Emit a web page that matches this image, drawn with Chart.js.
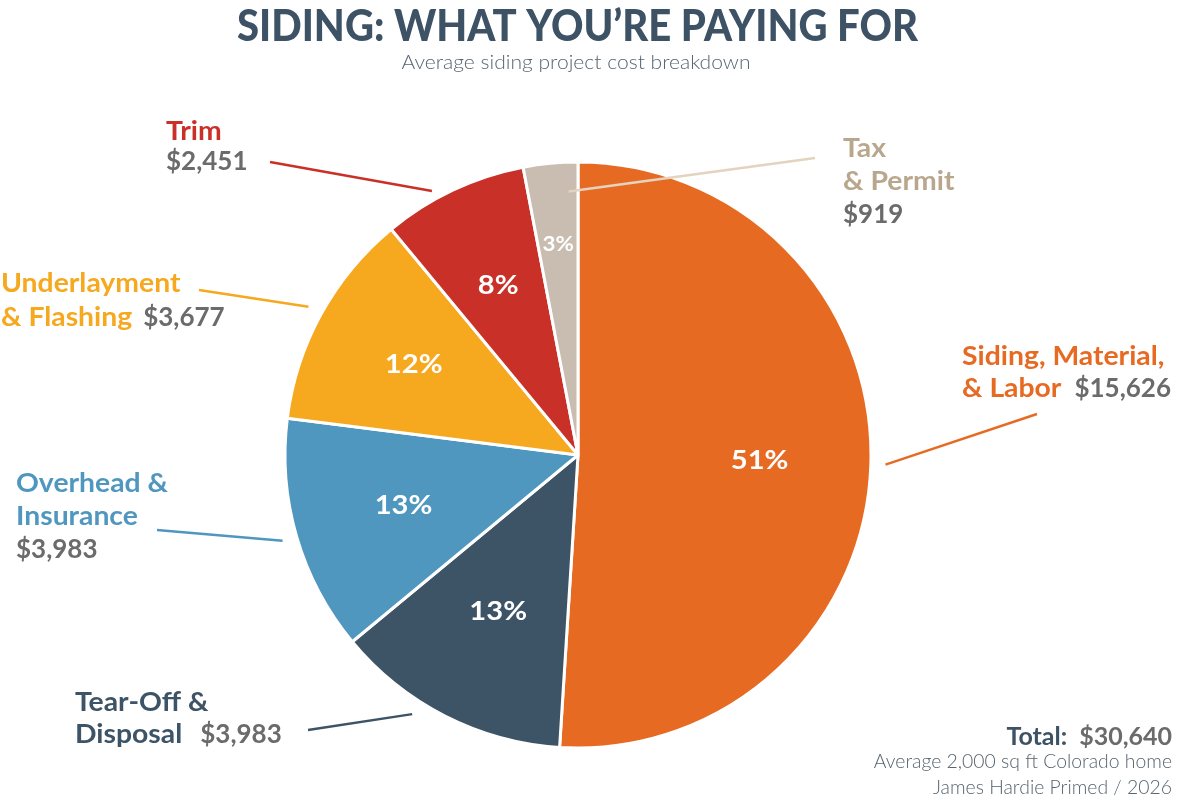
<!DOCTYPE html>
<html><head><meta charset="utf-8">
<script src="https://cdn.jsdelivr.net/npm/chart.js@4.4.1/dist/chart.umd.min.js"></script>
<style>html,body{margin:0;padding:0;background:#fff}#wrap{width:1200px;height:801px;position:relative}</style>
</head><body><div id="wrap"><canvas id="c" width="1200" height="801"></canvas></div>
<script>
// ---- data ----
const categories = ['Siding, Material, & Labor','Tear-Off & Disposal','Overhead & Insurance','Underlayment & Flashing','Trim','Tax & Permit'];
const labelLines = [['Siding, Material,','& Labor'],['Tear-Off &','Disposal'],['Overhead &','Insurance'],['Underlayment','& Flashing'],['Trim'],['Tax','& Permit']];
const costs = [15626, 3983, 3983, 3677, 2451, 919];
const totalCost = 30640;
const titleText = 'SIDING: WHAT YOU\u2019RE PAYING FOR';
const subtitleText = 'Average siding project cost breakdown';
const footnotes = ['Average 2,000 sq ft Colorado home', 'James Hardie Primed / 2026'];

// ---- styles ----
const sliceColors = ['#e76a22','#3d5366','#5097bf','#f6a81e','#c93028','#c8bdb0'];
const labelColors = ['#e76a22','#3d5366','#5097bf','#f6a81e','#c93028','#b9a78d'];
const leaderColors = ['#e76a22','#3d5366','#5097bf','#f6a81e','#c93028','#e3d3bf'];
const valueColor = '#6b6b6b';
const darkColor = '#3d5265';
const nameScale = 1.09;
const labelLayout = [
  {x:962, y:365, lh:32, mode:'inline', gap:13, end:[1037,414], t:0.5, rf:1.05, pf:0.62, pfs:26},
  {x:75,  y:711, lh:32, mode:'inline', gap:18, end:[308,730], t:0.62, rf:1.05, pf:0.60, pfs:26},
  {x:16,  y:492, lh:33, mode:'below', end:[157,530], t:0.5, rf:1.05, pf:0.62, pfs:26},
  {x:1,   y:292, lh:34, mode:'inline', gap:11, end:[199,290], t:0.5, rf:1.05, pf:0.64, pfs:26},
  {x:166, y:140, lh:30, mode:'below', end:[270,162], t:0.37, rf:1.03, pf:0.64, pfs:26},
  {x:843, y:157, lh:33, mode:'below', end:[815,158], t:0.81, rf:0.90, pf:0.72, pfs:20}
];
const fmt = v => '$' + v.toLocaleString('en-US');

function scaledText(ctx, s, x, y, sx, align) {
  ctx.save(); ctx.translate(x, y); ctx.scale(sx, 1);
  ctx.textAlign = align || 'left'; ctx.fillText(s, 0, 0); ctx.restore();
}

const decor = {
  id:'decor',
  afterDatasetsDraw(chart){
    const ctx = chart.ctx;
    const meta = chart.getDatasetMeta(0);
    const sum = costs.reduce((a,b)=>a+b,0);
    ctx.save();
    // title
    ctx.fillStyle = darkColor;
    ctx.font = '900 44px Lato';
    ctx.textBaseline = 'alphabetic';
    const tw = ctx.measureText(titleText).width;
    scaledText(ctx, titleText, 577.5, 41, 681 / tw, 'center');
    ctx.font = '300 20px Lato'; ctx.fillStyle = '#56646f';
    const sw = ctx.measureText(subtitleText).width;
    scaledText(ctx, subtitleText, 576, 69, 349 / sw, 'center');

    meta.data.forEach((arc, i) => {
      const L = labelLayout[i];
      const cx = arc.x, cy = arc.y, r = arc.outerRadius;
      // percent label
      const mid = (arc.startAngle + arc.endAngle) / 2;
      const pct = Math.round(costs[i] / sum * 100) + '%';
      ctx.font = '700 ' + L.pfs + 'px Lato'; ctx.fillStyle = '#ffffff';
      ctx.textBaseline = 'middle';
      scaledText(ctx, pct, cx + Math.cos(mid) * r * L.pf, cy + Math.sin(mid) * r * L.pf, 1.12, 'center');
      // leader
      const a = arc.startAngle + (arc.endAngle - arc.startAngle) * L.t;
      ctx.strokeStyle = leaderColors[i]; ctx.lineWidth = 2.5; ctx.lineCap = 'butt';
      ctx.beginPath();
      ctx.moveTo(cx + Math.cos(a) * r * L.rf, cy + Math.sin(a) * r * L.rf);
      ctx.lineTo(L.end[0], L.end[1]);
      ctx.stroke();
      // text
      ctx.textBaseline = 'alphabetic';
      ctx.font = '700 26px Lato';
      const lines = labelLines[i];
      lines.forEach((s, k) => { ctx.fillStyle = labelColors[i]; scaledText(ctx, s, L.x, L.y + k * L.lh, nameScale, 'left'); });
      ctx.fillStyle = valueColor;
      ctx.textAlign = 'left';
      if (L.mode === 'inline') {
        const last = lines[lines.length - 1];
        const w = ctx.measureText(last).width * nameScale;
        ctx.fillText(fmt(costs[i]), L.x + w + L.gap, L.y + (lines.length - 1) * L.lh);
      } else {
        ctx.fillText(fmt(costs[i]), L.x, L.y + lines.length * L.lh);
      }
    });

    // total
    ctx.textAlign = 'right'; ctx.textBaseline = 'alphabetic';
    ctx.font = '700 25px Lato';
    const totalStr = fmt(totalCost);
    ctx.fillStyle = valueColor; ctx.fillText(totalStr, 1172, 745);
    const w2 = ctx.measureText(totalStr).width;
    ctx.fillStyle = darkColor; ctx.fillText('Total:', 1172 - w2 - 12, 745);
    ctx.font = '300 19px Lato'; ctx.fillStyle = '#56646f';
    footnotes.forEach((s, k) => scaledText(ctx, s, 1172, 768 + k * 26, 1.02, 'right'));
    ctx.restore();
  }
};

new Chart(document.getElementById('c'), {
  type: 'pie',
  data: {
    labels: categories,
    datasets: [{ data: costs, backgroundColor: sliceColors, borderColor: '#ffffff', borderWidth: 3, radius: 293 }]
  },
  options: {
    responsive: false, animation: false,
    layout: { padding: { top: 162, bottom: 53, left: 285, right: 329 } },
    plugins: { legend: { display: false }, tooltip: { enabled: false }, title: { display: false } }
  },
  plugins: [decor]
});
</script></body></html>
